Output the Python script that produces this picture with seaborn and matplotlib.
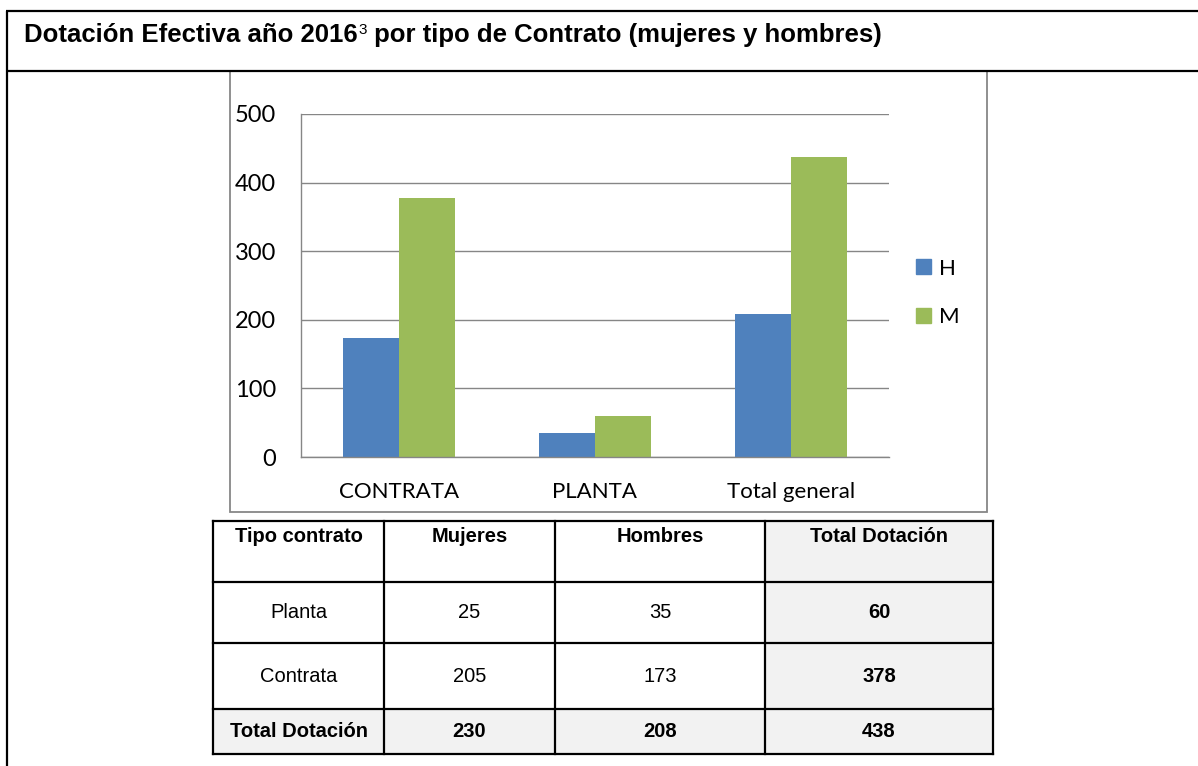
import numpy as np
import pandas as pd
import matplotlib
matplotlib.use("Agg")
import matplotlib.pyplot as plt
from matplotlib.patches import Rectangle, Patch
import seaborn as sns

# chart data
categories = ["CONTRATA", "PLANTA", "Total general"]
series = ["H", "M"]
h_values = [173, 35, 208]
m_values = [378, 60, 438]
y_ticks = [0, 100, 200, 300, 400, 500]
colors = ["#4F81BD", "#9BBB59"]

# table data
table_header = ["Tipo contrato", "Mujeres", "Hombres", "Total Dotación"]
table_rows = ["Planta", "Contrata", "Total Dotación"]
mujeres = [25, 205, 230]
hombres = [35, 173, 208]
totales = [60, 378, 438]

title_main = "Dotación Efectiva año 2016"
title_note = "3"
title_rest = " por tipo de Contrato (mujeres y hombres)"

sns.set_style("white")
plt.rcParams["text.color"] = "black"
narrow = ["Liberation Sans", "DejaVu Sans"]
chart_font = ["Lato", "DejaVu Sans"]

W, H = 1198, 766
fig = plt.figure(figsize=(W / 100, H / 100), dpi=100)

# page layer, drawn in pixel coordinates
page = fig.add_axes([0, 0, 1, 1], zorder=0)
page.set_xlim(0, W)
page.set_ylim(H, 0)
page.axis("off")

frame_kw = dict(color="black", lw=1.6, solid_capstyle="butt")
page.plot([6, W], [11, 11], **frame_kw)
page.plot([6, W], [71, 71], **frame_kw)
page.plot([7, 7], [11, H], **frame_kw)

# grey box round the chart
page.add_patch(Rectangle((230, 71), 757, 441, fill=False, ec="#878787", lw=1.3))

# title with footnote mark
renderer = fig.canvas.get_renderer()
t1 = page.text(24, 42, title_main, fontsize=18.5, fontweight="bold", family=narrow, va="baseline")
x_end = page.transData.inverted().transform(t1.get_window_extent(renderer))[1][0]
t2 = page.text(x_end + 1, 34, title_note, fontsize=11, family=narrow, va="baseline")
x_end = page.transData.inverted().transform(t2.get_window_extent(renderer))[1][0]
page.text(x_end, 42, title_rest, fontsize=18.5, fontweight="bold", family=narrow, va="baseline")

# table
col_edges = [213, 384, 555, 765, 993]
row_edges = [521, 582, 643, 709, 754]
n_rows = len(row_edges) - 1
n_cols = len(col_edges) - 1
cells = [table_header] + [
    [table_rows[i], str(mujeres[i]), str(hombres[i]), str(totales[i])] for i in range(len(table_rows))
]
for r in range(n_rows):
    for c in range(n_cols):
        x0, x1 = col_edges[c], col_edges[c + 1]
        y0, y1 = row_edges[r], row_edges[r + 1]
        shaded = (c == n_cols - 1) or (r == n_rows - 1)
        page.add_patch(Rectangle((x0, y0), x1 - x0, y1 - y0,
                                 fc="#F2F2F2" if shaded else "white", ec="none"))
        bold = r == 0 or shaded
        ty = y0 + 16 if r == 0 else (y0 + y1) / 2
        page.text((x0 + x1) / 2, ty, cells[r][c], ha="center", va="center",
                  fontsize=14.5, family=narrow, fontweight="bold" if bold else "normal")
for x in col_edges:
    page.plot([x, x], [row_edges[0], row_edges[-1]], color="black", lw=1.6, solid_capstyle="projecting")
for y in row_edges:
    page.plot([col_edges[0], col_edges[-1]], [y, y], color="black", lw=1.6, solid_capstyle="projecting")

# bar chart
df = pd.DataFrame({
    "categoria": categories * 2,
    "serie": ["H"] * len(categories) + ["M"] * len(categories),
    "valor": h_values + m_values,
})
ax = fig.add_axes([301 / W, 1 - 457 / H, 588 / W, 343 / H], zorder=2)
sns.barplot(data=df, x="categoria", y="valor", hue="serie", palette=colors,
            width=0.571, saturation=1, errorbar=None, linewidth=0, ax=ax)
ax.legend_.remove()

grey = "#868686"
ax.set_xlim(-0.5, 2.5)
ax.set_ylim(0, 500)
ax.set_yticks(y_ticks)
ax.set_xlabel("")
ax.set_ylabel("")
ax.set_facecolor("none")
ax.grid(axis="y", color=grey, lw=1.0)
ax.set_axisbelow(True)
for side in ["top", "right"]:
    ax.spines[side].set_visible(False)
for side in ["left", "bottom"]:
    ax.spines[side].set_color(grey)
    ax.spines[side].set_linewidth(1.0)
ax.tick_params(axis="y", length=5.8, width=1.0, color=grey, pad=12, labelsize=17, labelcolor="black")
ax.set_xticks([-0.5, 0.5, 1.5, 2.5], minor=True)
ax.tick_params(axis="x", which="major", length=0, pad=18, labelsize=16, labelcolor="black")
ax.tick_params(axis="x", which="minor", length=5.8, width=1.0, color=grey)
for lab in ax.get_xticklabels() + ax.get_yticklabels():
    lab.set_family(chart_font)

handles = [Patch(color=c) for c in colors]
fig.legend(handles, series, loc="center left", bbox_to_anchor=(916 / W, 1 - 293 / H),
           frameon=False, prop={"family": chart_font, "size": 16},
           handlelength=0.68, handleheight=0.68, handletextpad=0.35,
           labelspacing=1.3, borderpad=0, borderaxespad=0)

fig.savefig("out.png", dpi=100)
